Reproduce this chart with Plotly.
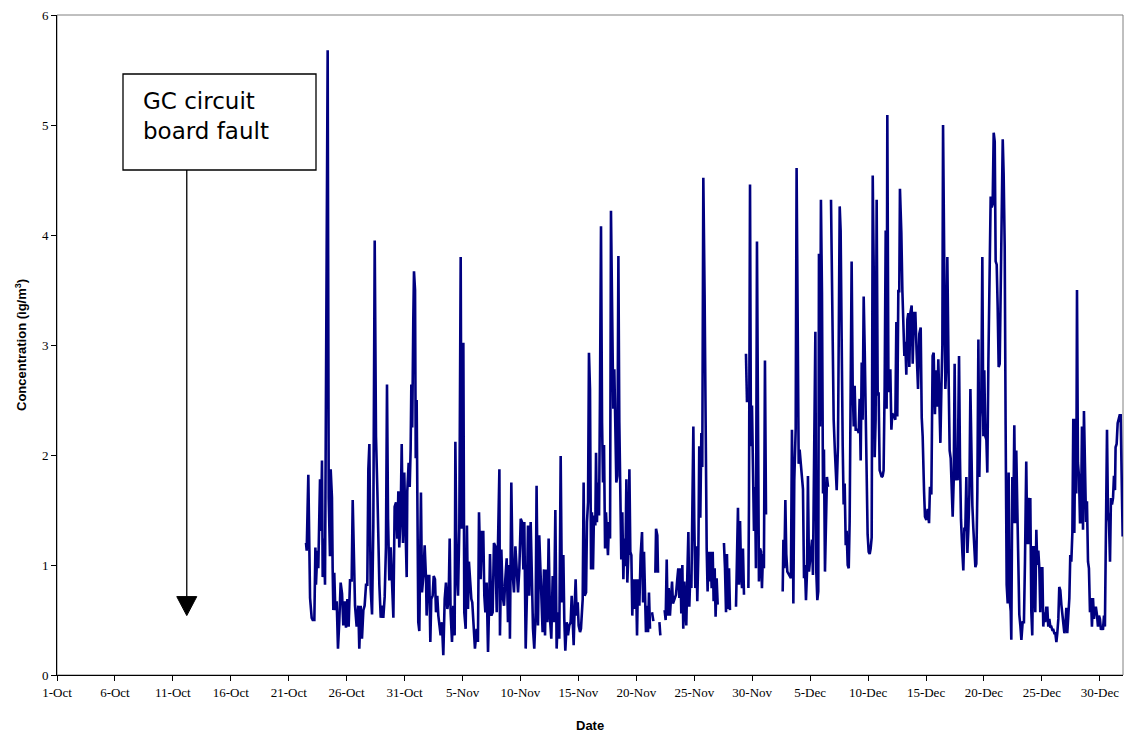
import plotly.graph_objects as go
import pandas as pd

START = pd.Timestamp("2005-10-01")

# ---- data: days since 1-Oct 00:00 and concentration (None = no data) ----
oct_days = [21.49, 21.55, 21.69, 21.75, 21.84, 21.98, 22.07, 22.21, 22.30, 22.35, 22.47, 22.55,
            22.70, 22.78, 22.87, 22.93, 23.04, 23.13, 23.36, 23.45, 23.56, 23.62, 23.73, 23.79,
            23.85, 23.93, 24.02, 24.14, 24.25, 24.36, 24.48, 24.60, 24.71, 24.83, 24.94, 25.06,
            25.17, 25.29, 25.43, 25.52, 25.63, 25.72, 25.86, 26.00, 26.09, 26.21, 26.32, 26.44,
            26.55, 26.67, 26.78, 26.87, 26.96, 27.07, 27.19, 27.30, 27.42, 27.53, 27.65, 27.73,
            27.82, 27.94, 28.05, 28.16, 28.28, 28.39, 28.48, 28.57, 28.68, 28.80, 28.91, 29.03,
            29.14, 29.26, 29.37, 29.46, 29.54, 29.66, 29.75, 29.86, 29.97, 30.09, 30.18, 30.23,
            30.35, 30.44, 30.52, 30.58, 30.66, 30.75, 30.81, 30.90, 30.96]
oct_conc = [1.20, 1.13, 1.82, 1.20, 0.70, 0.52, 0.50, 0.50, 1.16, 0.82, 1.13, 0.97,
            1.78, 1.31, 1.95, 0.89, 1.24, 0.82, 5.68, 1.61, 1.08, 1.87, 1.61, 0.97,
            0.59, 0.93, 0.59, 0.67, 0.24, 0.48, 0.84, 0.74, 0.45, 0.67, 0.43, 0.69,
            0.44, 0.86, 0.86, 1.59, 1.08, 0.63, 0.44, 0.63, 0.24, 0.63, 0.33, 0.59,
            0.63, 0.82, 0.82, 1.87, 2.10, 0.78, 0.55, 1.35, 3.95, 2.17, 1.67, 1.08,
            0.82, 0.52, 0.63, 0.52, 0.71, 1.16, 2.64, 1.42, 0.86, 1.16, 0.80, 0.52,
            1.53, 1.57, 1.24, 1.67, 1.16, 1.46, 2.10, 1.20, 1.84, 1.16, 0.89, 1.67,
            1.93, 1.71, 2.05, 2.64, 2.25, 3.24, 3.67, 3.50, 1.97]

nov_days = [31.04, 31.18, 31.27, 31.41, 31.50, 31.62, 31.73, 31.85, 31.90, 32.02, 32.13, 32.22,
            32.30, 32.42, 32.51, 32.62, 32.71, 32.82, 32.91, 32.99, 33.11, 33.22, 33.34, 33.46,
            33.57, 33.69, 33.80, 33.89, 33.97, 34.09, 34.20, 34.32, 34.38, 34.49, 34.61, 34.72,
            34.84, 34.92, 35.07, 35.15, 35.27, 35.38, 35.47, 35.55, 35.64, 35.76, 35.84, 35.96,
            36.07, 36.22, 36.33, 36.42, 36.56, 36.68, 36.79, 36.88, 36.97, 37.08, 37.20, 37.31,
            37.37, 37.49, 37.60, 37.71, 37.83, 37.95, 38.06, 38.18, 38.23, 38.35, 38.46, 38.58,
            38.69, 38.81, 38.92, 39.04, 39.09, 39.21, 39.32, 39.44, 39.56, 39.67, 39.79, 39.90,
            40.02, 40.13, 40.25, 40.33, 40.45, 40.56, 40.65, 40.76, 40.88, 40.99, 41.08, 41.19,
            41.31, 41.39, 41.51, 41.62,
            41.83, 41.91, 42.03, 42.12, 42.20, 42.32, 42.43, 42.55, 42.66, 42.78, 42.89, 43.01,
            43.12, 43.24, 43.35, 43.47, 43.58, 43.70, 43.78, 43.87, 43.99, 44.10, 44.21, 44.33,
            44.42, 44.50, 44.59, 44.68, 44.76, 44.85, 44.94, 45.02, 45.14, 45.22, 45.37, 45.45,
            45.54, 45.66, 45.74, 45.83, 45.91, 46.00, 46.09, 46.17, 46.26, 46.34, 46.46, 46.52,
            46.60, 46.69, 46.78, 46.86, 46.95, 47.04, 47.12, 47.21, 47.30, 47.38, 47.47, 47.55,
            47.64, 47.73, 47.81, 47.93, 48.01, 48.10, 48.19, 48.27, 48.36, 48.45, 48.53, 48.62,
            48.70, 48.79, 48.88, 48.96, 49.05, 49.14, 49.22, 49.31, 49.40, 49.48, 49.57, 49.65,
            49.74, 49.86, 49.97, 50.06, 50.14, 50.26, 50.37, 50.49, 50.58, 50.66, 50.75, 50.83,
            50.92, 51.01, 51.09, 51.18, 51.26, 51.35, 51.47, 51.55, 51.64, 51.70, 51.81, 51.87,
            51.93, 51.99, 52.07, 52.25,
            52.44, 52.53, 52.62, 52.70, 52.79, 52.90, 52.99, 53.08, 53.16, 53.42, 53.54, 53.62,
            53.71, 53.80, 53.88, 53.97, 54.05, 54.14, 54.23, 54.31, 54.40, 54.49, 54.57, 54.66,
            54.75, 54.83, 54.92, 55.00, 55.09, 55.18, 55.26, 55.35, 55.43, 55.52, 55.61, 55.69,
            55.78, 55.89, 55.98, 56.07, 56.15, 56.24, 56.33, 56.41, 56.50, 56.59, 56.67, 56.76,
            56.84, 56.93, 57.02, 57.30, 57.56, 57.65, 57.74, 57.82, 57.91, 58.00, 58.08, 58.35,
            58.60, 58.69, 58.77, 58.86, 58.95, 59.03, 59.12, 59.20, 59.29, 59.38, 59.46, 59.55,
            59.61, 59.67, 59.72, 59.81, 59.89, 59.98, 60.06, 60.15, 60.24, 60.32, 60.41, 60.50,
            60.58, 60.67, 60.76, 60.84, 60.93]
nov_conc = [2.50, 0.48, 0.40, 1.66, 0.75, 0.90, 1.18, 0.87, 0.54, 0.90, 0.90, 0.30,
            0.69, 0.72, 0.90, 0.87, 0.57, 0.72, 0.54, 0.48, 0.36, 0.48, 0.18, 0.69,
            0.84, 0.60, 0.69, 1.24, 0.57, 0.30, 0.63, 0.36, 2.12, 0.96, 0.72, 1.33,
            3.80, 1.33, 3.02, 0.57, 0.42, 1.36, 0.60, 1.03, 0.84, 0.69, 0.66, 0.42,
            0.24, 0.42, 0.30, 1.48, 0.87, 1.30, 1.30, 0.72, 0.57, 0.84, 0.21, 0.72,
            1.10, 0.54, 0.57, 1.20, 1.17, 0.57, 1.14, 1.87, 0.36, 1.14, 0.72, 0.63,
            0.87, 1.06, 0.48, 1.00, 0.33, 1.75, 0.93, 0.75, 1.17, 0.96, 0.75, 0.96,
            1.42, 1.39, 0.96, 1.39, 0.24, 0.75, 1.36, 0.72, 1.39, 0.87, 0.42, 0.24,
            0.57, 1.72, 0.45, 1.27,
            0.66, 0.39, 0.96, 0.36, 0.96, 0.48, 1.24, 0.51, 0.33, 0.90, 0.48, 1.50,
            0.24, 0.57, 0.33, 1.99, 0.66, 1.09, 0.51, 0.22, 0.48, 0.36, 0.45, 0.48,
            0.72, 0.54, 0.27, 0.63, 0.87, 0.54, 0.66, 0.45, 0.39, 0.42, 0.69, 1.75,
            0.72, 0.75, 1.39, 1.57, 2.93, 2.60, 0.96, 1.48, 0.96, 1.45, 1.36, 2.02,
            1.39, 1.75, 1.45, 2.51, 4.08, 2.30, 1.75, 2.09, 1.15, 1.48, 1.21, 1.09,
            1.39, 1.24, 4.22, 3.21, 2.42, 2.78, 2.30, 1.75, 1.81, 3.81, 2.30, 1.51,
            1.05, 1.48, 0.87, 1.24, 0.99, 1.78, 0.84, 1.09, 1.87, 1.12, 1.09, 0.54,
            0.87, 0.60, 0.87, 0.36, 0.87, 0.63, 1.09, 1.30, 0.66, 1.12, 0.78, 0.39,
            0.63, 0.39, 0.75, 0.42, None, 0.57, 0.49, None, 0.93, 1.33, 1.27, 0.93,
            None, 0.48, 0.36, None,
            0.59, 0.50, 1.05, 0.54, 0.79, 0.54, 0.70, 0.85, 0.65, 0.73, 0.88, 0.97,
            0.70, 0.97, 0.56, 1.00, 0.42, 0.85, 0.60, 0.45, 0.91, 1.30, 0.62, 0.91,
            0.79, 1.89, 2.26, 1.40, 0.79, 1.17, 0.67, 1.10, 2.08, 1.43, 2.20, 1.89,
            4.52, 3.46, 1.71, 1.15, 0.76, 1.12, 0.85, 1.12, 0.79, 1.12, 0.67, 0.97,
            0.53, 0.88, 0.64, None, 1.20, 0.97, 0.57, 1.10, 0.60, 0.97, 0.59, None,
            0.62, 1.15, 1.52, 0.82, 1.40, 0.97, 0.79, 1.15, 0.73, None, 2.92, 2.48,
            None, 0.79, 1.55, 4.46, 2.08, 2.45, 1.71, 1.31, 1.71, 0.97, 3.94, 1.71,
            0.85, 1.15, 1.12, 0.79, 1.10]

dec_days = [61.01, 61.10, 61.19, 61.90,
            62.63, 62.69, 62.77, 62.86, 62.94, 63.03, 63.34, 63.43, 63.49, 63.55, 63.63, 63.75,
            63.83, 63.92, 64.01, 64.09, 64.38, 64.47, 64.55, 64.64, 64.73, 64.81, 64.90, 65.16,
            65.24, 65.45, 65.53, 65.62, 65.70, 65.76, 65.85, 65.93, 66.02, 66.11, 66.19, 66.28,
            66.37, 66.45, 66.54, 66.67, 66.80, 66.91, 67.03, 67.14, 67.29, 67.40, 67.46, 67.55,
            67.63, 67.72, 67.81, 67.89, 67.98, 68.07, 68.15, 68.24, 68.33, 68.41, 68.50, 68.58,
            68.67, 68.76, 68.84, 68.93, 69.02, 69.10, 69.19, 69.27, 69.36, 69.45, 69.53, 69.62,
            69.71, 69.79, 69.88, 69.96, 70.05, 70.14, 70.22, 70.31, 70.40, 70.48, 70.57, 70.65,
            70.74, 70.83, 70.91, 71.00, 71.09, 71.17, 71.26, 71.34, 71.43, 71.52, 71.60, 71.66,
            71.75, 71.83, 71.92, 72.01, 72.09, 72.18, 72.26, 72.35, 72.44, 72.52, 72.61, 72.69,
            72.75, 72.87, 72.96, 73.04, 73.13, 73.21, 73.30, 73.39, 73.47, 73.56, 73.65, 73.76,
            73.85, 73.96, 74.08, 74.19, 74.31, 74.42, 74.54, 74.63, 74.71, 74.83, 74.91, 75.03,
            75.14, 75.26, 75.34, 75.46, 75.57, 75.66, 75.77, 75.86, 75.98, 76.06, 76.15, 76.24,
            76.32, 76.41, 76.47, 76.55, 76.67, 76.75, 76.84, 76.96, 77.04, 77.13, 77.21, 77.30,
            77.39, 77.47, 77.56, 77.65, 77.73, 77.85, 77.93, 78.02, 78.14, 78.22, 78.31, 78.39,
            78.48, 78.57, 78.65, 78.74, 78.83, 78.91, 79.00, 79.08, 79.17, 79.26, 79.34, 79.43,
            79.52, 79.60, 79.69, 79.77, 79.86, 79.95, 80.03, 80.12, 80.21, 80.29, 80.38, 80.46,
            80.58, 80.67, 80.75, 80.84, 80.93, 81.01, 81.10, 81.18, 81.27, 81.36, 81.44, 81.53,
            81.62, 81.70, 81.79, 81.87, 81.96, 82.05, 82.13, 82.22, 82.31, 82.36, 82.45, 82.53,
            82.62, 82.71, 82.79, 82.88, 82.97, 83.05, 83.14, 83.23, 83.34, 83.45,
            83.54, 83.65, 83.74, 83.83, 83.91, 84.00, 84.09, 84.17, 84.26, 84.35, 84.43, 84.52,
            84.60, 84.69, 84.78, 84.86, 84.95, 85.04, 85.12, 85.21, 85.29, 85.38, 85.47, 85.55,
            85.64, 85.73, 85.81, 85.90, 85.99, 86.07, 86.16, 86.25, 86.33, 86.42, 86.50, 86.59,
            86.68, 86.76, 86.85, 86.94, 87.02, 87.11, 87.19, 87.28, 87.37, 87.45, 87.54, 87.63,
            87.71, 87.80, 87.89, 87.97, 88.03, 88.11, 88.20, 88.29, 88.37, 88.46, 88.55, 88.63,
            88.72, 88.81, 88.89, 88.98, 89.06, 89.15, 89.24, 89.32, 89.41, 89.50, 89.58, 89.67,
            89.76, 89.84, 89.93, 90.01, 90.10, 90.19, 90.27, 90.36, 90.44, 90.53, 90.62, 90.70,
            90.79, 90.88, 90.96, 91.05, 91.14, 91.22, 91.31, 91.36, 91.45, 91.54, 91.62, 91.71,
            91.80, 91.88, 91.97]
dec_conc = [0.97, 2.86, 1.46, None,
            0.76, 1.23, 0.97, 1.59, 1.10, 0.94, 0.88, 2.23, 1.71, 0.65, 1.77, 2.23,
            4.61, 3.28, 1.92, 2.05, 1.69, 0.88, 1.00, 0.68, 0.94, 1.81, 0.94, 1.23,
            0.91, 3.12, 0.94, 0.68, 0.76, 3.83, 2.26, 4.32, 3.48, 1.65, 2.05, 0.94,
            1.34, 1.80, 1.71, None, 4.32, 3.24, 2.32, 2.02, 1.68, 2.08, 3.12, 4.26,
            4.04, 2.51, 2.08, 1.55, 1.74, 1.18, 1.31, 1.00, 0.97, 1.40, 2.78, 3.76,
            2.63, 2.26, 2.63, 2.23, 2.23, 2.23, 2.20, 2.51, 1.95, 2.84, 2.32, 3.44,
            2.95, 2.29, 1.55, 1.28, 1.12, 1.10, 1.15, 1.25, 4.54, 3.76, 1.98, 2.32,
            4.32, 2.54, 2.57, 1.86, 1.83, 1.80, 1.81, 1.86, 2.63, 4.04, 2.42, 5.09,
            2.78, 2.57, 2.78, 2.23, 2.38, 2.35, 2.35, 2.32, 3.21, 2.35, 3.49, 3.49,
            4.42, 4.02, 3.49, 3.16, 2.90, 3.03, 2.73, 3.23, 3.29, 2.80, 3.29, 3.36,
            2.83, 3.29, 3.29, 2.93, 2.60, 3.10, 3.16, 2.34, 2.17, 1.67, 1.44, 1.41,
            1.51, 1.38, 1.71, 1.64, 2.90, 2.93, 2.37, 2.77, 2.44, 2.87, 2.44, 2.11,
            2.57, 3.00, 5.00, 3.59, 2.60, 2.83, 3.80, 2.63, 2.04, 1.97, 1.71, 1.44,
            1.77, 2.83, 1.77, 1.87, 1.77, 2.90, 1.97, 1.41, 1.11, 0.95, 1.34, 1.31,
            1.80, 1.11, 1.31, 1.64, 2.60, 1.84, 1.54, 1.34, 1.11, 0.98, 1.01, 1.67,
            3.05, 1.80, 2.34, 2.50, 3.80, 2.17, 2.77, 2.17, 2.14, 1.84, 2.83, 3.66,
            4.35, 4.25, 4.28, 4.93, 4.85, 3.76, 3.73, 3.36, 2.80, 2.83, 3.49, 3.79,
            4.87, 4.55, 3.89, 2.27, 0.82, 0.65, 1.84, 0.69, 0.58, 0.32, 1.80, 1.38,
            2.27, 1.38, 2.04, 1.51, 1.05, 0.55, 0.45, 0.32, 0.48, 0.48,
            1.03, 1.94, 1.19, 1.61, 1.19, 1.61, 0.57, 0.36, 1.16, 1.16, 0.57, 1.32,
            1.00, 1.13, 0.97, 0.57, 0.97, 0.97, 0.44, 0.57, 0.48, 0.61, 0.61, 0.44,
            0.51, 0.44, 0.44, 0.41, 0.41, 0.38, 0.38, 0.30, 0.38, 0.51, 0.80, 0.77,
            0.64, 0.57, 0.51, 0.38, 0.44, 0.61, 0.38, 0.54, 0.70, 1.09, 1.03, 1.29,
            2.33, 1.29, 2.33, 1.65, 3.50, 1.93, 1.81, 1.39, 1.39, 2.26, 1.32, 2.40,
            1.71, 1.39, 1.58, 1.03, 0.97, 0.57, 0.70, 0.44, 0.70, 0.51, 0.61, 0.61,
            0.54, 0.44, 0.54, 0.51, 0.41, 0.44, 0.41, 0.54, 0.44, 1.48, 2.23, 1.48,
            1.39, 1.03, 1.61, 1.55, 1.61, 1.81, 1.68, 2.07, 2.10, 2.29, 2.33, 2.36,
            2.36, 1.97, 1.26]

x_tick_labels = ["1-Oct", "6-Oct", "11-Oct", "16-Oct", "21-Oct", "26-Oct", "31-Oct",
                 "5-Nov", "10-Nov", "15-Nov", "20-Nov", "25-Nov", "30-Nov",
                 "5-Dec", "10-Dec", "15-Dec", "20-Dec", "25-Dec", "30-Dec"]
y_tick_values = [0, 1, 2, 3, 4, 5, 6]

fault_label = "GC circuit<br>board fault"
fault_arrow_day = 11.2      # arrow points at ~12-Oct
fault_arrow_value = 0.54

# ---- build ----
days = oct_days + nov_days + dec_days
conc = oct_conc + nov_conc + dec_conc
times = START + pd.to_timedelta(days, unit="D")
tick_dates = [pd.to_datetime(lbl + "-2005", format="%d-%b-%Y") for lbl in x_tick_labels]
arrow_x = START + pd.Timedelta(days=fault_arrow_day)

fig = go.Figure()
fig.add_trace(go.Scatter(
    x=times, y=conc, mode="lines",
    line=dict(color="#000080", width=2.6),
    connectgaps=False, showlegend=False, hoverinfo="x+y",
))

W, H = 1125, 733
L, R, T, B = 57, 2, 15, 58
pw, ph = W - L - R, H - T - B


def px(X):
    return (X - L) / pw


def py(Y):
    return (H - B - Y) / ph


tick_font = dict(family="Liberation Serif", size=13, color="black")
title_font = dict(family="Liberation Sans", size=13, color="black")

fig.update_layout(
    width=W, height=H,
    margin=dict(l=L, r=R, t=T, b=B, pad=0),
    paper_bgcolor="white", plot_bgcolor="white",
    xaxis=dict(
        type="date",
        range=[START, START + pd.Timedelta(days=92)],
        tickvals=tick_dates, ticktext=x_tick_labels,
        showgrid=False, zeroline=False,
        showline=True, linecolor="black", linewidth=1,
        ticks="outside", ticklen=5, tickwidth=1, tickcolor="black",
        tickfont=tick_font,
    ),
    yaxis=dict(
        range=[0, 6], tickvals=y_tick_values,
        showgrid=False, zeroline=False,
        showline=True, linecolor="black", linewidth=1,
        ticks="outside", ticklen=5, tickwidth=1, tickcolor="black",
        tickfont=tick_font,
    ),
    shapes=[
        # plot-area frame (top/right in grey)
        dict(type="rect", xref="paper", yref="paper", x0=0, x1=1, y0=0, y1=1,
             line=dict(color="#808080", width=1), layer="below"),
        # annotation box
        dict(type="rect", xref="paper", yref="paper",
             x0=px(123), x1=px(316), y0=py(170), y1=py(74),
             line=dict(color="black", width=1.3), fillcolor="white", layer="above"),
        # arrow shaft
        dict(type="line", xref="x", yref="paper",
             x0=arrow_x, x1=arrow_x, y0=py(170), y1=py(600),
             line=dict(color="black", width=1.3)),
        # arrow head (triangle, sized in pixels, tip at the data point)
        dict(type="path", xref="x", yref="y",
             xsizemode="pixel", ysizemode="pixel",
             xanchor=arrow_x, yanchor=fault_arrow_value,
             path="M -10,19 L 10,19 L 0,0 Z",
             fillcolor="black", line=dict(color="black", width=1)),
    ],
    annotations=[
        dict(text="<b>Date</b>", xref="paper", yref="paper", x=0.5, y=py(725),
             xanchor="center", yanchor="middle", showarrow=False, font=title_font),
        dict(text="<b>Concentration (ìg/m<sup>3</sup>)</b>", xref="paper", yref="paper",
             x=px(21), y=0.5, xanchor="center", yanchor="middle", textangle=-90,
             showarrow=False, font=title_font),
        dict(text=fault_label, xref="paper", yref="paper", x=px(141), y=py(116),
             xanchor="left", yanchor="middle", align="left", showarrow=False,
             font=dict(family="DejaVu Sans", size=23, color="black")),
    ],
)

fig.write_html("out.html")
